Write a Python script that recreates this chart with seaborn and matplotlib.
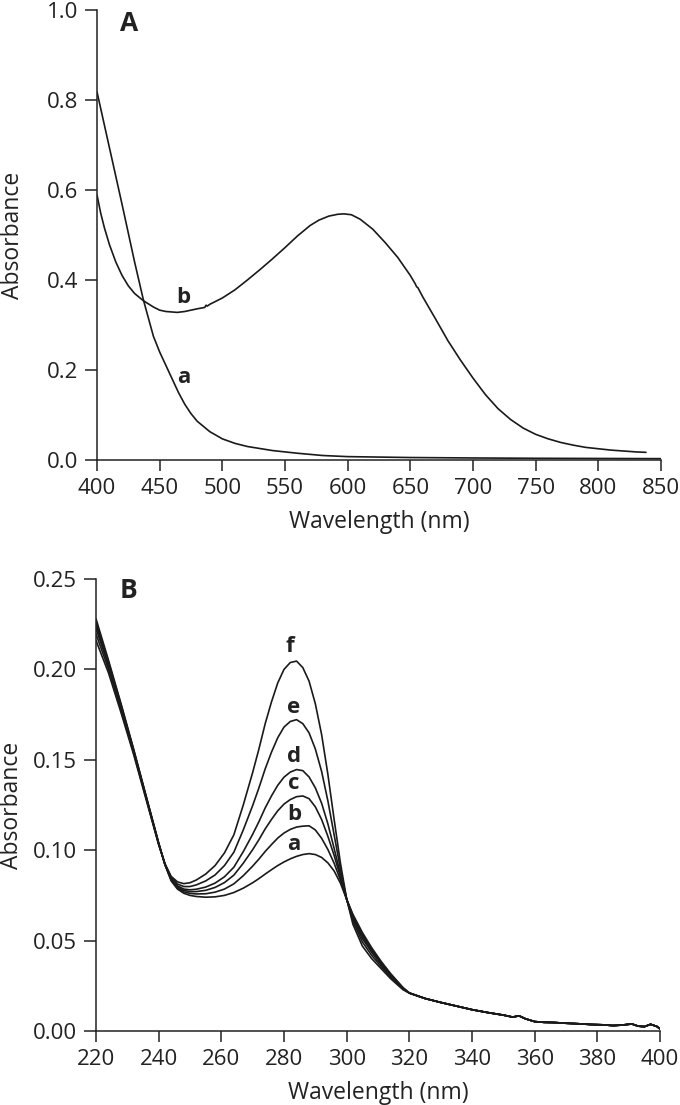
import numpy as np
import pandas as pd
import matplotlib
matplotlib.use("Agg")
import matplotlib.pyplot as plt
import seaborn as sns

# ---------------- Panel A data ----------------
wl_A_a = [400, 410, 420, 430, 437, 445, 450, 455, 460, 465, 470, 475, 480, 490, 500,
          510, 520, 540, 560, 580, 600, 650, 700, 750, 800, 850]
abs_A_a = [0.818, 0.693, 0.568, 0.440, 0.356, 0.275, 0.240, 0.210, 0.180, 0.150, 0.124,
           0.103, 0.086, 0.063, 0.047, 0.037, 0.030, 0.021, 0.015, 0.010, 0.0075, 0.0055,
           0.0045, 0.0038, 0.0034, 0.0030]

wl_A_b = [400, 403, 406, 410, 415, 420, 425, 430, 437, 445, 450, 455, 464, 470, 480, 486,
          487, 488, 490, 500, 510, 520, 530, 540, 550, 560, 570, 577, 585, 592, 597, 603,
          610, 620, 630, 640, 650, 654, 655, 656, 660, 670, 680, 690, 700, 710, 720, 730,
          740, 750, 760, 770, 780, 790, 800, 810, 820, 830, 838]
abs_A_b = [0.589, 0.548, 0.515, 0.478, 0.440, 0.410, 0.387, 0.370, 0.354, 0.340, 0.333,
           0.330, 0.328, 0.330, 0.336, 0.339, 0.344, 0.342, 0.346, 0.360, 0.378, 0.400,
           0.423, 0.447, 0.472, 0.498, 0.521, 0.533, 0.542, 0.546, 0.547, 0.545, 0.535,
           0.513, 0.483, 0.450, 0.410, 0.391, 0.385, 0.383, 0.362, 0.314, 0.265, 0.222,
           0.182, 0.145, 0.114, 0.090, 0.071, 0.057, 0.047, 0.039, 0.033, 0.028, 0.025,
           0.022, 0.020, 0.018, 0.017]

# ---------------- Panel B data ----------------
wl_B_head = [220, 224, 228, 232, 236, 238, 240, 242, 244, 246, 248, 250, 252, 255, 258,
             261, 264, 267, 270, 272, 274, 276, 278, 280, 282, 284, 286, 288, 290, 292,
             294, 296, 298, 300, 302, 305, 308, 311, 314, 318]
abs_B_a = [0.2280, 0.2050, 0.1810, 0.1560, 0.1300, 0.1170, 0.1040, 0.0920, 0.0830, 0.0785,
           0.0762, 0.0750, 0.0744, 0.0740, 0.0742, 0.0750, 0.0766, 0.0790, 0.0820, 0.0843,
           0.0868, 0.0892, 0.0915, 0.0935, 0.0952, 0.0966, 0.0976, 0.0981, 0.0976, 0.0960,
           0.0930, 0.0885, 0.0818, 0.0728, 0.0645, 0.0545, 0.0460, 0.0385, 0.0318, 0.0240]
abs_B_b = [0.2262, 0.2040, 0.1803, 0.1556, 0.1297, 0.1168, 0.1039, 0.0921, 0.0834, 0.0791,
           0.0770, 0.0761, 0.0758, 0.0759, 0.0768, 0.0785, 0.0814, 0.0859, 0.0912, 0.0951,
           0.0993, 0.1031, 0.1067, 0.1095, 0.1115, 0.1128, 0.1133, 0.1135, 0.1112, 0.1066,
           0.1004, 0.0928, 0.0835, 0.0728, 0.0637, 0.0534, 0.0451, 0.0379, 0.0314, 0.0238]
abs_B_c = [0.2244, 0.2029, 0.1795, 0.1551, 0.1294, 0.1166, 0.1037, 0.0922, 0.0838, 0.0797,
           0.0778, 0.0771, 0.0771, 0.0778, 0.0794, 0.0821, 0.0862, 0.0928, 0.1003, 0.1058,
           0.1118, 0.1170, 0.1218, 0.1255, 0.1280, 0.1296, 0.1300, 0.1285, 0.1240, 0.1170,
           0.1077, 0.0971, 0.0852, 0.0729, 0.0629, 0.0523, 0.0442, 0.0373, 0.0310, 0.0236]
abs_B_d = [0.2227, 0.2019, 0.1788, 0.1547, 0.1291, 0.1163, 0.1036, 0.0922, 0.0841, 0.0803,
           0.0785, 0.0781, 0.0784, 0.0796, 0.0818, 0.0853, 0.0906, 0.0992, 0.1088, 0.1158,
           0.1234, 0.1300, 0.1359, 0.1404, 0.1432, 0.1446, 0.1440, 0.1405, 0.1345, 0.1260,
           0.1146, 0.1010, 0.0867, 0.0729, 0.0621, 0.0512, 0.0434, 0.0367, 0.0306, 0.0235]
abs_B_e = [0.2196, 0.2001, 0.1775, 0.1539, 0.1286, 0.1160, 0.1033, 0.0924, 0.0848, 0.0813,
           0.0799, 0.0799, 0.0808, 0.0830, 0.0863, 0.0915, 0.0989, 0.1112, 0.1247, 0.1345,
           0.1450, 0.1542, 0.1622, 0.1681, 0.1712, 0.1722, 0.1700, 0.1649, 0.1560, 0.1436,
           0.1273, 0.1085, 0.0896, 0.0729, 0.0607, 0.0493, 0.0418, 0.0357, 0.0298, 0.0232]
abs_B_f = [0.2160, 0.1980, 0.1760, 0.1530, 0.1280, 0.1155, 0.1030, 0.0925, 0.0855, 0.0825,
           0.0815, 0.0820, 0.0835, 0.0868, 0.0915, 0.0985, 0.1085, 0.1250, 0.1430, 0.1560,
           0.1700, 0.1820, 0.1925, 0.2000, 0.2038, 0.2046, 0.2010, 0.1935, 0.1810, 0.1640,
           0.1420, 0.1170, 0.0930, 0.0730, 0.0590, 0.0470, 0.0400, 0.0345, 0.0290, 0.0228]

wl_B_tail = [320, 325, 330, 335, 340, 345, 350, 353, 355, 357, 360, 363, 366, 370, 374,
             378, 382, 385, 388, 391, 393, 395, 397, 399, 400]
abs_B_tail = [0.0210, 0.0180, 0.0158, 0.0138, 0.0118, 0.0102, 0.0088, 0.0077, 0.0084,
              0.0068, 0.0052, 0.0048, 0.0047, 0.0043, 0.0040, 0.0036, 0.0034, 0.0030,
              0.0033, 0.0039, 0.0027, 0.0024, 0.0037, 0.0025, 0.0012]

labels_B = ["a", "b", "c", "d", "e", "f"]
series_B = [abs_B_a, abs_B_b, abs_B_c, abs_B_d, abs_B_e, abs_B_f]

# label anchor points (wavelength, absorbance)
lab_A = {"a": (469, 0.183), "b": (469, 0.362)}
lab_B = {"a": (283, 0.1029), "b": (283.2, 0.1195), "c": (283.2, 0.137),
         "d": (283.2, 0.1517), "e": (283, 0.179), "f": (282, 0.2126)}

# ---------------- Build data frames ----------------
dfA = pd.concat([
    pd.DataFrame({"wl": wl_A_a, "A": abs_A_a, "curve": "a"}),
    pd.DataFrame({"wl": wl_A_b, "A": abs_A_b, "curve": "b"}),
], ignore_index=True)

frames = []
for lab, vals in zip(labels_B, series_B):
    frames.append(pd.DataFrame({"wl": wl_B_head + wl_B_tail,
                                "A": vals + abs_B_tail, "curve": lab}))
dfB = pd.concat(frames, ignore_index=True)

# ---------------- Style ----------------
sns.set_theme(style="ticks")
plt.rcParams["font.family"] = ["Open Sans", "DejaVu Sans"]
plt.rcParams.update({
    "axes.linewidth": 1.1,
    "xtick.major.width": 1.1, "ytick.major.width": 1.1,
    "xtick.major.size": 8, "ytick.major.size": 8.5,
    "xtick.major.pad": 5, "ytick.major.pad": 5,
    "xtick.labelsize": 16, "ytick.labelsize": 16,
    "axes.labelsize": 16.5,
    "xtick.color": "#222222", "ytick.color": "#222222",
    "axes.edgecolor": "#222222", "text.color": "#222222",
    "axes.labelcolor": "#222222",
})

fig = plt.figure(figsize=(6.8, 11.05), dpi=100)
W, H = 680.0, 1105.0
ax1 = fig.add_axes([97 / W, 1 - 460 / H, (661 - 97) / W, 450 / H])
ax2 = fig.add_axes([96 / W, 1 - 1031 / H, (660 - 96) / W, 452 / H])

ink = "#1a1a1a"
sns.lineplot(data=dfA, x="wl", y="A", hue="curve", units="curve", estimator=None,
             palette=[ink, ink], linewidth=1.2, legend=False, ax=ax1, sort=False)
sns.lineplot(data=dfB, x="wl", y="A", hue="curve", units="curve", estimator=None,
             palette=[ink] * 6, linewidth=1.2, legend=False, ax=ax2, sort=False)

# Axes A
ax1.set_xlim(400, 850)
ax1.set_ylim(0, 1.0)
ax1.set_xticks(np.arange(400, 851, 50))
ax1.set_yticks(np.arange(0, 1.01, 0.2))
ax1.set_yticklabels([f"{v:.1f}" for v in np.arange(0, 1.01, 0.2)])
ax1.set_xlabel("Wavelength (nm)", labelpad=8)
ax1.set_ylabel("Absorbance")
ax1.yaxis.set_label_coords(-0.128, 0.5)
ax1.text(426, 0.97, "A", fontsize=19, fontweight="bold", ha="center", va="center")
for k, (x, y) in lab_A.items():
    ax1.text(x, y, k, fontsize=16, fontweight="bold", ha="center", va="center")

# Axes B
ax2.set_xlim(220, 400)
ax2.set_ylim(0, 0.25)
ax2.set_xticks(np.arange(220, 401, 20))
ax2.set_yticks(np.arange(0, 0.251, 0.05))
ax2.set_yticklabels([f"{v:.2f}" for v in np.arange(0, 0.251, 0.05)])
ax2.set_xlabel("Wavelength (nm)", labelpad=8)
ax2.set_ylabel("Absorbance")
ax2.yaxis.set_label_coords(-0.128, 0.5)
ax2.text(230.5, 0.2437, "B", fontsize=19, fontweight="bold", ha="center", va="center")
for k, (x, y) in lab_B.items():
    ax2.text(x, y, k, fontsize=16, fontweight="bold", ha="center", va="center")

for ax in (ax1, ax2):
    sns.despine(ax=ax)
    ax.grid(False)

fig.savefig("out.png", dpi=100)
